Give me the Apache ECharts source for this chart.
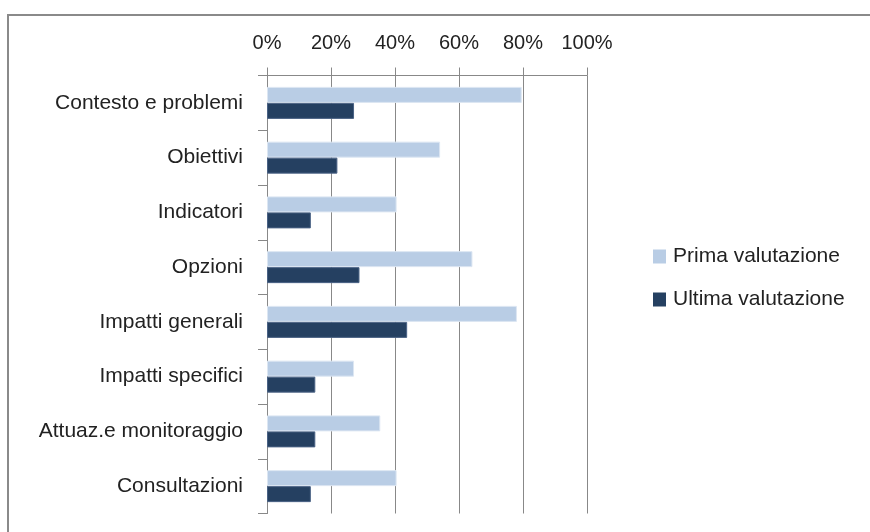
<!DOCTYPE html>
<html>
<head>
<meta charset="utf-8">
<script src="https://cdn.jsdelivr.net/npm/echarts@6/dist/echarts.min.js"></script>
<style>
  html, body { margin: 0; padding: 0; background: #fff; }
  #chart { width: 870px; height: 532px; }
</style>
</head>
<body>
<div id="chart"></div>
<script>
const categories = [
  'Contesto e problemi', 'Obiettivi', 'Indicatori', 'Opzioni',
  'Impatti generali', 'Impatti specifici', 'Attuaz.e monitoraggio', 'Consultazioni'
]
const primaValutazione = [0.796, 0.541, 0.405, 0.642, 0.781, 0.272, 0.354, 0.405]
const ultimaValutazione = [0.272, 0.220, 0.137, 0.289, 0.438, 0.151, 0.151, 0.137]
const seriesNames = ['Prima valutazione', 'Ultima valutazione']

const FONT = "'Liberation Sans', Arial, sans-serif"
const GRAY = '#888888'
const TEXT = '#222222'

const chart = echarts.init(document.getElementById('chart'), null, { renderer: 'canvas' })

chart.setOption({
  backgroundColor: '#fff',
  animation: false,
  textStyle: { fontFamily: FONT },
  graphic: [{
    type: 'rect',
    shape: { x: 8, y: 15, width: 900, height: 600 },
    style: { fill: 'none', stroke: '#8a8a8a', lineWidth: 2 },
    silent: true
  }],
  grid: { left: 267, top: 75.5, width: 320, height: 438 },
  legend: {
    orient: 'vertical',
    left: 653,
    top: 246,
    padding: 0,
    itemWidth: 13,
    itemHeight: 14,
    itemGap: 22,
    icon: 'rect',
    data: seriesNames,
    itemStyle: { borderWidth: 0 },
    textStyle: { fontFamily: FONT, fontSize: 21, color: TEXT, padding: [0, 0, 0, 2] }
  },
  xAxis: {
    type: 'value',
    position: 'top',
    min: 0,
    max: 1,
    interval: 0.2,
    axisLine: { show: true, lineStyle: { color: GRAY, width: 1 } },
    axisTick: { show: true, length: 8, lineStyle: { color: GRAY } },
    axisLabel: {
      margin: 22,
      color: TEXT,
      fontSize: 20,
      fontFamily: FONT,
      formatter: v => Math.round(v * 100) + '%'
    },
    splitLine: { show: true, lineStyle: { color: GRAY, width: 1 } }
  },
  yAxis: {
    type: 'category',
    inverse: true,
    data: categories,
    axisLine: { show: true, lineStyle: { color: GRAY, width: 1 } },
    axisTick: { show: true, length: 9, lineStyle: { color: GRAY } },
    axisLabel: { margin: 24, color: TEXT, fontSize: 21, fontFamily: FONT, interval: 0 }
  },
  series: [
    {
      name: seriesNames[0],
      type: 'bar',
      data: primaValutazione,
      barWidth: 16,
      barGap: '0%',
      itemStyle: { color: '#b9cde5', borderColor: '#dce6f2', borderWidth: 1 }
    },
    {
      name: seriesNames[1],
      type: 'bar',
      data: ultimaValutazione,
      barWidth: 16,
      barGap: '0%',
      itemStyle: { color: '#254061', borderColor: '#4a6285', borderWidth: 1 }
    }
  ]
})
</script>
</body>
</html>
